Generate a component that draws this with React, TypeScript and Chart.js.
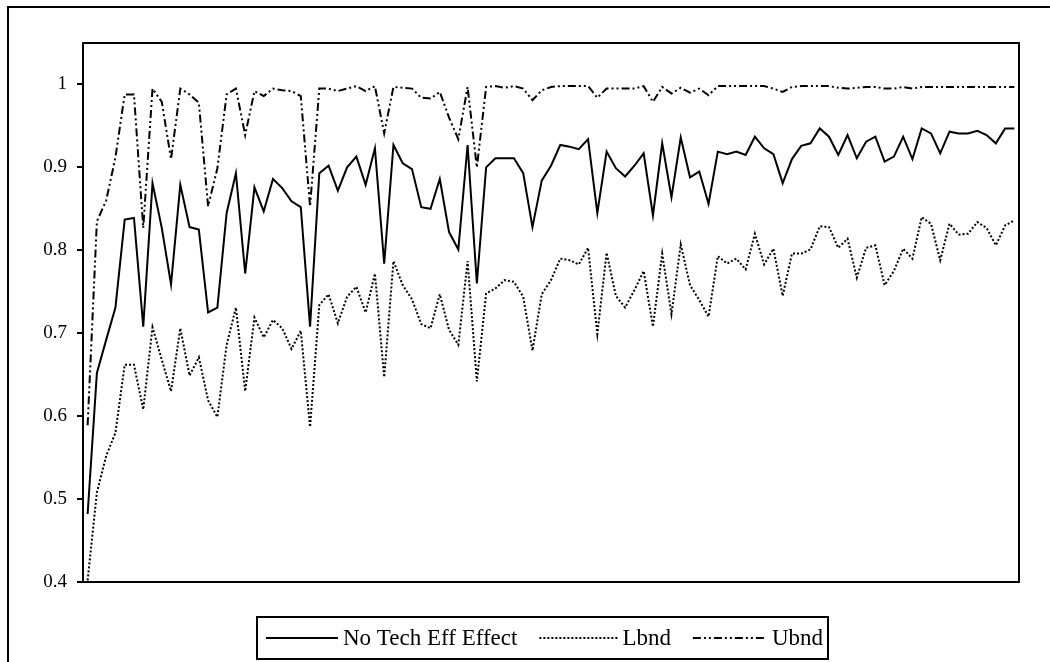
import React, { useEffect, useRef } from "react";
import { Chart, registerables } from "chart.js";

Chart.register(...registerables);

const noTechEffEffect = [
  0.482, 0.652, 0.692, 0.731, 0.837, 0.839, 0.708, 0.881, 0.827, 0.759,
  0.879, 0.828, 0.825, 0.725, 0.731, 0.845, 0.893, 0.772, 0.876, 0.847,
  0.886, 0.875, 0.859, 0.852, 0.708, 0.893, 0.902, 0.872, 0.900, 0.913,
  0.879, 0.923, 0.784, 0.927, 0.905, 0.898, 0.852, 0.850, 0.886, 0.822,
  0.801, 0.927, 0.760, 0.900, 0.911, 0.911, 0.911, 0.893, 0.828, 0.884,
  0.902, 0.927, 0.925, 0.922, 0.934, 0.845, 0.919, 0.899, 0.889, 0.902,
  0.917, 0.842, 0.929, 0.864, 0.936, 0.888, 0.895, 0.856, 0.919, 0.916,
  0.919, 0.915, 0.937, 0.923, 0.916, 0.881, 0.910, 0.926, 0.929, 0.947,
  0.937, 0.915, 0.939, 0.911, 0.931, 0.937, 0.907, 0.913, 0.937, 0.910,
  0.947, 0.941, 0.917, 0.943, 0.941, 0.941, 0.944, 0.939, 0.929, 0.947,
  0.947,
];

const lbnd = [
  0.402, 0.508, 0.552, 0.580, 0.662, 0.662, 0.608, 0.707, 0.668, 0.630,
  0.706, 0.649, 0.671, 0.619, 0.599, 0.686, 0.731, 0.630, 0.719, 0.695,
  0.716, 0.706, 0.681, 0.703, 0.587, 0.734, 0.747, 0.712, 0.744, 0.756,
  0.725, 0.772, 0.647, 0.787, 0.758, 0.741, 0.711, 0.706, 0.747, 0.704,
  0.686, 0.787, 0.642, 0.748, 0.754, 0.764, 0.762, 0.744, 0.679, 0.747,
  0.764, 0.790, 0.788, 0.783, 0.803, 0.699, 0.797, 0.745, 0.731, 0.752,
  0.775, 0.708, 0.796, 0.723, 0.807, 0.758, 0.740, 0.720, 0.793, 0.784,
  0.790, 0.777, 0.820, 0.783, 0.802, 0.745, 0.796, 0.796, 0.801, 0.829,
  0.828, 0.803, 0.814, 0.767, 0.803, 0.806, 0.758, 0.775, 0.802, 0.790,
  0.840, 0.832, 0.788, 0.832, 0.819, 0.820, 0.834, 0.827, 0.806, 0.830,
  0.836,
];

const ubnd = [
  0.589, 0.835, 0.860, 0.912, 0.988, 0.988, 0.827, 0.995, 0.979, 0.910,
  0.995, 0.988, 0.978, 0.853, 0.899, 0.988, 0.995, 0.939, 0.992, 0.986,
  0.995, 0.993, 0.992, 0.986, 0.853, 0.995, 0.995, 0.992, 0.995, 0.998,
  0.992, 0.998, 0.941, 0.997, 0.996, 0.995, 0.984, 0.983, 0.991, 0.960,
  0.934, 0.997, 0.900, 0.997, 0.998, 0.996, 0.998, 0.995, 0.981, 0.993,
  0.997, 0.998, 0.998, 0.998, 0.998, 0.984, 0.995, 0.995, 0.995, 0.995,
  0.998, 0.979, 0.997, 0.989, 0.996, 0.990, 0.995, 0.987, 0.998, 0.998,
  0.998, 0.998, 0.998, 0.998, 0.995, 0.991, 0.997, 0.998, 0.998, 0.998,
  0.998, 0.996, 0.995, 0.996, 0.997, 0.997, 0.995, 0.995, 0.997, 0.995,
  0.997, 0.997, 0.997, 0.997, 0.997, 0.997, 0.997, 0.997, 0.997, 0.997,
  0.997,
];

const categories = noTechEffEffect.map((_, i) => String(i + 1));

const seriesNames = ["No Tech Eff Effect", "Lbnd", "Ubnd"];

const yTickValues = [0.4, 0.5, 0.6, 0.7, 0.8, 0.9, 1.0];
const yTickLabels = ["0.4", "0.5", "0.6", "0.7", "0.8", "0.9", "1"];

const FONT_FAMILY = "'Liberation Serif', 'Times New Roman', serif";
const TICK_FONT_SIZE = 19;
const LEGEND_FONT_SIZE = 23;

const framePlugin = {
  id: "excelFrame",
  afterDraw(chart: any) {
    const { ctx, chartArea: a } = chart;
    ctx.save();
    ctx.strokeStyle = "#000";
    ctx.lineWidth = 2;
    ctx.setLineDash([]);
    // plot area box
    ctx.strokeRect(a.left, a.top, a.right - a.left, a.bottom - a.top);
    // outer chart frame (left + top visible)
    ctx.beginPath();
    ctx.moveTo(8, 700);
    ctx.lineTo(8, 7);
    ctx.lineTo(1100, 7);
    ctx.stroke();

    // legend
    ctx.font = `${LEGEND_FONT_SIZE}px ${FONT_FAMILY}`;
    ctx.textBaseline = "middle";
    ctx.textAlign = "left";
    ctx.fillStyle = "#000";
    const boxLeft = 257;
    const boxRight = 828;
    const boxTop = 617;
    const boxH = 42;
    const cy = boxTop + boxH / 2;
    const padL = 9;
    const padR = 5;
    const textGap = 5;
    const sampleLens = [72, 78, 74];
    const datasets = chart.data.datasets;
    const textW = datasets.map((ds: any) => ctx.measureText(ds.label).width);
    const used = padL + padR + sampleLens.reduce((s, v) => s + v, 0) + textGap * 3 + textW.reduce((s: number, v: number) => s + v, 0);
    const itemGap = Math.max(6, (boxRight - boxLeft - used) / 2);
    let x = boxLeft + padL;
    datasets.forEach((ds: any, i: number) => {
      ctx.save();
      ctx.lineWidth = ds.borderWidth;
      ctx.setLineDash(ds.borderDash || []);
      ctx.lineCap = "butt";
      ctx.beginPath();
      ctx.moveTo(x, cy);
      ctx.lineTo(x + sampleLens[i], cy);
      ctx.stroke();
      ctx.restore();
      x += sampleLens[i] + textGap;
      ctx.fillText(ds.label, x, cy + 1);
      x += textW[i] + itemGap;
    });
    ctx.lineWidth = 2;
    ctx.setLineDash([]);
    ctx.strokeRect(boxLeft, boxTop, boxRight - boxLeft, boxH);
    ctx.restore();
  },
};

export default function App() {
  const canvasRef = useRef<HTMLCanvasElement | null>(null);

  useEffect(() => {
    const canvas = canvasRef.current;
    if (!canvas) return;
    const chart = new Chart(canvas, {
      type: "line",
      data: {
        labels: categories,
        datasets: [
          {
            label: seriesNames[0],
            data: noTechEffEffect,
            borderColor: "#000",
            borderWidth: 2,
            pointRadius: 0,
            tension: 0,
            fill: false,
          },
          {
            label: seriesNames[1],
            data: lbnd,
            borderColor: "#000",
            borderWidth: 2,
            borderDash: [2, 2],
            pointRadius: 0,
            tension: 0,
            fill: false,
          },
          {
            label: seriesNames[2],
            data: ubnd,
            borderColor: "#000",
            borderWidth: 2,
            borderDash: [8, 3, 2, 3, 2, 3],
            pointRadius: 0,
            tension: 0,
            fill: false,
          },
        ],
      },
      options: {
        responsive: false,
        animation: false,
        devicePixelRatio: 1,
        layout: { padding: { left: 0, top: 43, right: 31, bottom: 80 } },
        plugins: {
          legend: { display: false },
          tooltip: { enabled: false },
          title: { display: false },
        },
        scales: {
          x: {
            type: "category",
            display: false,
            offset: true,
            grid: { display: false },
          },
          y: {
            type: "linear",
            min: 0.4,
            max: 1.05,
            afterFit(scale: any) {
              scale.width = 83;
            },
            afterBuildTicks(scale: any) {
              scale.ticks = yTickValues.map((v) => ({ value: v }));
            },
            border: { display: false },
            grid: {
              drawOnChartArea: false,
              drawTicks: true,
              tickLength: 6,
              color: "#000",
              lineWidth: 2,
            },
            ticks: {
              padding: 10,
              color: "#000",
              font: { family: FONT_FAMILY, size: TICK_FONT_SIZE },
              callback: (value: any) => {
                const idx = yTickValues.findIndex((v) => Math.abs(v - Number(value)) < 1e-6);
                return idx >= 0 ? yTickLabels[idx] : "";
              },
            },
          },
        },
      },
      plugins: [framePlugin],
    });
    return () => chart.destroy();
  }, []);

  return (
    <div style={{ position: "fixed", left: 0, top: 0, width: 1050, height: 662, overflow: "hidden", background: "#fff" }}>
      <canvas ref={canvasRef} width={1050} height={662} style={{ width: 1050, height: 662, display: "block" }} />
    </div>
  );
}
